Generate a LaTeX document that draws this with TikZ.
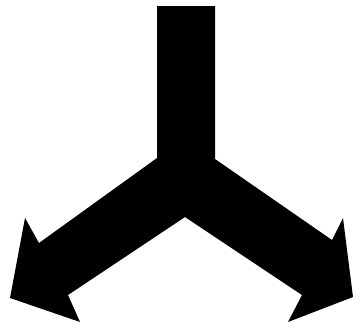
\documentclass[tikz,border=0pt]{standalone}
\usepackage{tikz}
\usetikzlibrary{calc}
\tikzstyle{splitarrow} = [fill=black, draw=none]

\begin{document}
\begin{tikzpicture}[x=1pt, y=-1pt]
\useasboundingbox (0,0) rectangle (354,325);

% stem
\coordinate (stemtl) at (157,6);
\coordinate (stemtr) at (215,6);
\coordinate (stemr) at (215,159);
\coordinate (steml) at (157,158);
\coordinate (notch) at (185,217);

% right branch
\fill[splitarrow] (stemtl) -- (stemtr) -- (stemr)
  -- (332,240) -- (343,218) -- (353,297) -- (288,322) -- (302,295)
  -- (notch)
% left branch
  -- (68,295) -- (80,322) -- (10,298) -- (25,218) -- (39,243)
  -- (steml) -- cycle;
\end{tikzpicture}
\end{document}
